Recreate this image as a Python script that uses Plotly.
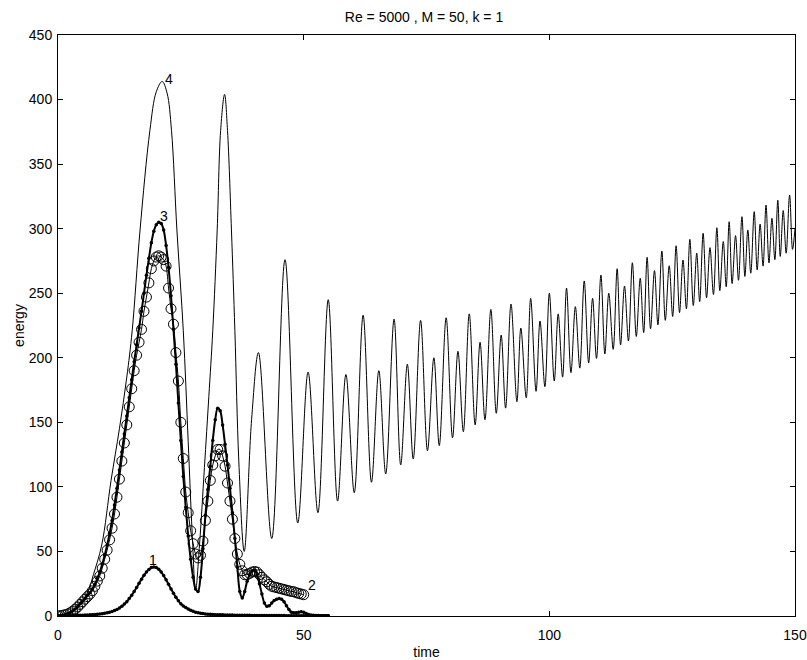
import plotly.graph_objects as go

# ---------------- data ----------------
# curve 4 (thin line): time / energy read at extrema and key points
t4 = [0, 2, 4, 6, 7.2, 8.9, 10.8, 12.5, 14, 15.1,
      16.7, 18.7, 20, 21.2, 22.2, 23.1, 24.2, 25.5, 26.5, 27.3,
      28, 28.8, 29.8, 30.7, 31.5, 32.4, 33.1, 33.9, 34.5, 35.3,
      36, 36.8, 37.9, 39.4, 40.8, 43.5, 46.2, 48.8, 50.9, 52.9,
      55, 56.9, 58.6, 60.3, 62.1, 63.8, 65.3, 66.7, 68.4, 69.75,
      71.1, 72.3, 73.8, 75.2, 76.5, 77.6, 79.0, 80.3, 81.4, 82.5,
      83.7, 84.9, 85.9, 86.9, 88.1, 89.2, 90.2, 91.1, 92.2, 93.4,
      94.2, 95.3, 96.2, 97.3, 98.1, 99.1, 100.0, 101.0, 101.8, 102.7,
      103.5, 104.4, 105.3, 106.2, 107.1, 108.0, 108.8, 109.6, 110.5, 111.3,
      112.1, 113.0, 113.8, 114.5, 115.3, 116.1, 116.9, 117.7, 118.5, 119.2,
      119.9, 120.6, 121.4, 122.1, 122.9, 123.6, 124.4, 125.1, 125.8, 126.5,
      127.2, 127.9, 128.6, 129.3, 130.0, 130.6, 131.3, 132.0, 132.7, 133.4,
      134.1, 134.7, 135.4, 136.0, 136.6, 137.2, 137.9, 138.5, 139.2, 139.8,
      140.4, 141.0, 141.7, 142.3, 142.9, 143.5, 144.1, 144.7, 145.3, 145.9,
      146.5, 147.0, 147.6, 148.2, 148.9, 149.5, 150]
e4 = [0, 2.5, 7, 18, 32, 55, 105, 145, 185, 221,
      299, 376, 406, 414, 405, 376, 299, 221, 135, 65,
      20, 55, 115, 170, 221, 299, 376, 404, 376, 299,
      221, 120, 50, 152, 204, 60, 276, 72, 189, 80,
      245, 89, 187, 95.5, 233, 103.6, 190, 110, 230, 117,
      195, 121.6, 229, 128, 200, 132, 231, 138, 205, 142.7,
      234, 148, 212, 152, 237.5, 157, 217.6, 161, 241.6, 166,
      223, 169, 246, 174, 228.5, 177.6, 250, 182, 234, 185,
      254, 188.5, 239.6, 192, 259.5, 196, 246, 199.5, 264, 203,
      250, 206.5, 269, 210, 255.6, 213, 273.6, 216.5, 261.5, 219.5,
      277.8, 222.5, 267.5, 225.5, 282.7, 229, 271.3, 232, 286.8, 235,
      275.7, 238, 291.7, 240.5, 281, 243.5, 296.4, 246.5, 285.3, 249,
      300.7, 252, 290, 255, 305.4, 257.5, 294.6, 260, 309.3, 263,
      299, 265.5, 313.2, 268, 303.6, 271, 318.3, 273.5, 308, 276,
      322, 278.5, 314, 281, 326, 284, 300]

# sample times of curves 1-3 (step 0.5)
t13 = [i * 0.5 for i in range(111)]   # 0 .. 55
t2 = [i * 0.5 for i in range(101)]    # 0 .. 50

e1 = [0.3, 0.3, 0.3, 0.3, 0.4, 0.4, 0.4, 0.5, 0.5, 0.6,
      0.6, 0.7, 0.8, 0.9, 1.0, 1.2, 1.3, 1.5, 1.8, 2.1,
      2.5, 3.0, 3.5, 4.2, 5.0, 6.2, 7.5, 9.2, 11, 13.5,
      16, 19, 22, 25.3, 28.5, 31.5, 34, 36, 37.5, 38,
      37.5, 36.2, 34, 31.3, 28, 24.5, 21, 17.6, 14.5, 11.8,
      9.5, 7.8, 6.5, 5.4, 4.5, 3.7, 3.0, 2.6, 2.2, 1.9,
      1.6, 1.4, 1.3, 1.2, 1.0, 1.0, 0.9, 0.9, 0.8, 0.8,
      0.7, 0.7, 0.6, 0.6, 0.6, 0.5, 0.5, 0.5, 0.5, 0.4,
      0.4, 0.4, 0.4, 0.4, 0.4, 0.3, 0.3, 0.3, 0.3, 0.3,
      0.3, 0.3, 0.3, 0.2, 0.2, 0.2, 0.2, 0.2, 0.2, 0.2,
      0.2, 0.2, 0.2, 0.1, 0.1, 0.1, 0.1, 0.1, 0.1, 0.1,
      0.1]

e2 = [0, 0.3, 0.6, 1, 1.6, 2.5, 3.8, 5.3, 7, 9,
      11, 13, 15, 17, 19.5, 23, 27, 31, 37, 44,
      51, 59, 68, 79, 92, 106, 120, 134, 148, 162,
      176, 190, 202, 212, 222, 236, 247, 258, 269, 275,
      278, 279, 278, 276, 271, 254, 238, 226, 204, 182,
      150, 122, 96, 80, 66, 56, 48, 45, 47, 58,
      74, 89, 105, 117, 124, 129, 129, 124, 116, 103,
      89, 75, 60, 48, 40, 35, 32, 32, 33, 34,
      34.5, 34, 32, 30, 28, 26.5, 24.5, 23, 22.5, 22,
      21.5, 21, 20.5, 20, 19.5, 19, 18.8, 18, 17.5, 17,
      16.5]

e3 = [0, 0.3, 0.6, 1, 1.7, 2.6, 4, 5.5, 7.3, 9.5,
      11.5, 13.5, 16, 18, 21, 24.5, 29, 34, 40, 47,
      55, 64, 74, 86, 99, 113, 127, 141, 155, 169,
      183, 197, 210, 223, 236, 250, 264, 277, 289, 298,
      303, 305, 304, 299, 287, 270, 248, 222, 195, 165,
      136, 108, 84, 62, 44, 30, 21, 19, 30, 52,
      78, 98, 116, 136, 152, 161, 159, 148, 133, 117,
      99, 80, 60, 38, 19, 14, 19, 27, 32, 35,
      35.5, 32, 25, 17, 10, 7.5, 8, 10, 12, 13,
      13.5, 13, 11, 8, 5, 3, 2.5, 2.5, 3, 3.3,
      3, 2, 1.2, 0.8, 0.5, 0.4, 0.3, 0.2, 0.2, 0.1,
      0.1]

label_text = ["1", "2", "3", "4"]
label_t = [19.3, 51.6, 21.5, 22.5]
label_e = [43, 24, 310, 416]

x_ticks = [0, 50, 100, 150]
y_ticks = [0, 50, 100, 150, 200, 250, 300, 350, 400, 450]

FONT = "Liberation Sans, Arial, Helvetica, sans-serif"

fig = go.Figure()

fig.add_trace(go.Scatter(x=t4, y=e4, mode="lines", line=dict(color="black", width=1, shape="spline", smoothing=1.0),
                         showlegend=False, hoverinfo="skip"))
fig.add_trace(go.Scatter(x=t13, y=e1, mode="lines+markers", line=dict(color="black", width=2, shape="spline"),
                         marker=dict(symbol="circle", size=3.5, color="black"), showlegend=False))
fig.add_trace(go.Scatter(x=t13, y=e3, mode="lines+markers", line=dict(color="black", width=2, shape="spline"),
                         marker=dict(symbol="circle", size=3.5, color="black"), showlegend=False))
fig.add_trace(go.Scatter(x=t2, y=e2, mode="lines+markers", line=dict(color="black", width=1, shape="spline"),
                         marker=dict(symbol="circle-open", size=10, color="black", line=dict(width=1)),
                         showlegend=False))

for txt, tx, ty in zip(label_text, label_t, label_e):
    fig.add_annotation(x=tx, y=ty, text=txt, showarrow=False, xanchor="center", yanchor="middle",
                       font=dict(family=FONT, size=14, color="#000000"))

axis_common = dict(showline=True, linecolor="black", linewidth=1, mirror="ticks", ticks="inside",
                   ticklen=5, tickcolor="black", showgrid=False, zeroline=False, automargin=False,
                   tickfont=dict(family=FONT, size=14, color="black"))

fig.update_xaxes(range=[0, 150], tickvals=x_ticks, ticktext=[str(v) for v in x_ticks],
                 title=dict(text="time", font=dict(family=FONT, size=14, color="black"), standoff=10),
                 ticklabelstandoff=6, **axis_common)
fig.update_yaxes(range=[0, 450], tickvals=y_ticks, ticktext=[str(v) for v in y_ticks],
                 title=dict(text="energy", font=dict(family=FONT, size=14, color="black"), standoff=0),
                 ticklabelstandoff=2, **axis_common)

fig.update_layout(
    width=807, height=660,
    margin=dict(l=58, r=12, t=35, b=44, autoexpand=False),
    paper_bgcolor="white", plot_bgcolor="white",
    hovermode=False,
    title=dict(text="Re = 5000 , M = 50, k = 1", x=0.5254, xanchor="center", y=0.974, yanchor="middle",
               font=dict(family=FONT, size=14, color="black")),
)

fig.write_html("out.html",
               config={"displayModeBar": False, "staticPlot": True},
               post_script="document.body.style.margin='0';document.body.style.overflow='hidden';")
